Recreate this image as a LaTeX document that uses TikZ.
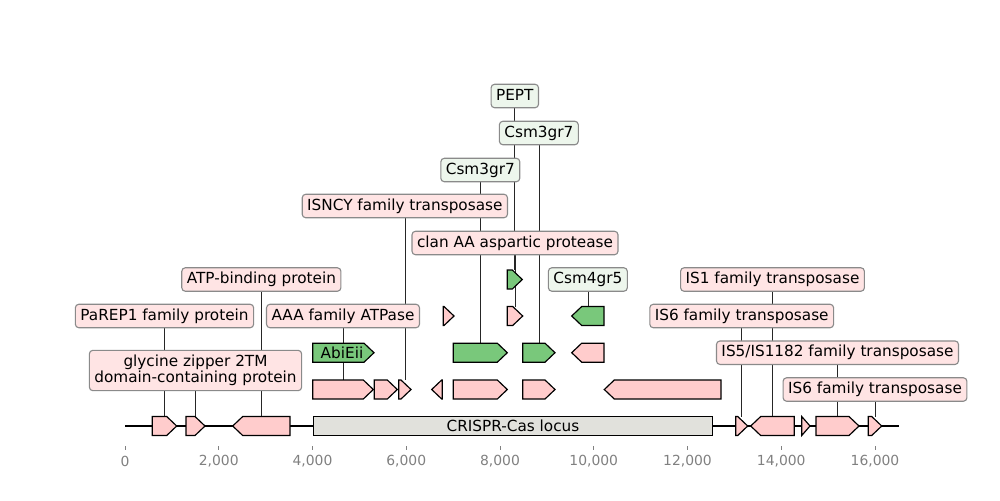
\documentclass[tikz,border=0pt]{standalone}
\usepackage{fontspec}
\setmainfont{DejaVu Sans}
\definecolor{fpink}{HTML}{FFCCCC}
\definecolor{fgreen}{HTML}{79C87B}
\definecolor{fgray}{HTML}{E1E1DC}
\definecolor{lpink}{HTML}{FFE4E4}
\definecolor{lgreen}{HTML}{EDF6EC}
\definecolor{lborder}{HTML}{8A8A8A}
\definecolor{tickgray}{HTML}{808080}
\pgfdeclarelayer{bg}
\pgfsetlayers{bg,main}
\tikzset{
  feat/.style={draw=black, line width=0.85pt, line join=miter},
  labbase/.style={draw=lborder, line width=0.8pt, rounded corners=2.5pt,
    font=\fontsize{11}{11.8}\selectfont, inner xsep=3.6pt, inner ysep=3.3pt},
  lab/.style={labbase, text height=8.1pt, text depth=2.2pt},
  labp/.style={lab, fill=lpink},
  labg/.style={lab, fill=lgreen},
  conn/.style={draw=black!85, line width=0.5pt},
  tick/.style={draw=tickgray, line width=0.7pt},
  ticklab/.style={text=tickgray, font=\fontsize{10}{12}\selectfont},
}
\newcommand\fwdf[5]{%
  \pgfmathsetmacro\hlen{min(10,#3-#2)}%
  \draw[feat, fill=#5] (#2,#4-9.5) -- ({#3-\hlen},#4-9.5) -- (#3,#4) -- ({#3-\hlen},#4+9.5) -- (#2,#4+9.5) -- cycle;
  \coordinate (#1) at ({(#2+#3)/2},#4-9.5);}
\newcommand\revf[5]{%
  \pgfmathsetmacro\hlen{min(10,#3-#2)}%
  \draw[feat, fill=#5] (#3,#4-9.5) -- ({#2+\hlen},#4-9.5) -- (#2,#4) -- ({#2+\hlen},#4+9.5) -- (#3,#4+9.5) -- cycle;
  \coordinate (#1) at ({(#2+#3)/2},#4-9.5);}
\begin{document}
\begin{tikzpicture}[x=0.72pt, y=-0.72pt]
\useasboundingbox (0,0) rectangle (1000,500);
% backbone
\coordinate (bbL) at (125,426);
\coordinate (bbR) at (899.3,426);
\begin{pgfonlayer}{bg}
\draw[line width=1.45pt] (bbL) -- (bbR);
\end{pgfonlayer}
% axis
\foreach \k/\t in {0/0,1/{2,000},2/{4,000},3/{6,000},4/{8,000},5/{10,000},6/{12,000},7/{14,000},8/{16,000}}{
  \draw[tick] ({125+93.75*\k},446) -- ({125+93.75*\k},450);
  \node[ticklab] (tl\k) at ({125+93.75*\k},461.5) {\t};
}
% main track
\fwdf{fA}{152.3}{176.7}{426}{fpink}
\fwdf{fB}{186}{205}{426}{fpink}
\revf{fC}{232.7}{290}{426}{fpink}
\node[feat, fill=fgray, minimum width=399.8*0.72pt, minimum height=19*0.72pt, inner sep=0pt, anchor=west,
  font=\fontsize{11}{12}\selectfont] (locus) at (312.5,426) {CRISPR-Cas locus};
\fwdf{fD}{735.7}{747.7}{426}{fpink}
\revf{fE}{750.7}{794.3}{426}{fpink}
\fwdf{fF}{801.7}{810}{426}{fpink}
\fwdf{fG}{816}{859}{426}{fpink}
\fwdf{fH}{868.3}{881.7}{426}{fpink}
% row 1
\fwdf{ra}{312.7}{373.3}{389.5}{fpink}
\fwdf{rb}{374.3}{397.3}{389.5}{fpink}
\fwdf{rc}{398.7}{411}{389.5}{fpink}
\revf{rd}{431.7}{442.3}{389.5}{fpink}
\fwdf{re}{453.3}{507.3}{389.5}{fpink}
\fwdf{rf}{522.7}{555}{389.5}{fpink}
\revf{rg}{604.3}{721}{389.5}{fpink}
% row 2
\fwdf{sa}{312.7}{374}{352.7}{fgreen}
\node[font=\fontsize{11}{12}\selectfont, inner sep=0pt] (abi) at (342,352.7) {AbiEii};
\fwdf{sb}{453.3}{507.3}{352.7}{fgreen}
\fwdf{sc}{522.7}{555}{352.7}{fgreen}
\revf{sd}{571.7}{604}{352.7}{fpink}
% row 3
\fwdf{ta}{443.3}{454}{316}{fpink}
\fwdf{tb}{507.3}{522.7}{316}{fpink}
\revf{tc}{571.7}{604}{316}{fgreen}
% row 4
\fwdf{ua}{507.3}{522.3}{279.5}{fgreen}
% labels
\node[labg] (lPEPT) at (ua |- 0,96) {PEPT};
\node[labg] (lCsmA) at (sc |- 0,133) {Csm3gr7};
\node[labg] (lCsmB) at (sb |- 0,170) {Csm3gr7};
\node[labp] (lISNCY) at (rc |- 0,206) {ISNCY family transposase};
\node[labp] (lclan) at (tb |- 0,243) {clan AA aspartic protease};
\node[labp] (lATP) at (fC |- 0,279.5) {ATP-binding protein};
\node[labg] (lCsm4) at (tc |- 0,279.5) {Csm4gr5};
\node[labp] (lIS1) at (fE |- 0,279.5) {IS1 family transposase};
\node[labp] (lPaREP) at (fA |- 0,316) {PaREP1 family protein};
\node[labp] (lAAA) at (ra |- 0,316) {AAA family ATPase};
\node[labp] (lIS6a) at (fD |- 0,316) {IS6 family transposase};
\node[labbase, fill=lpink, align=center] (lgly) at (fB |- 0,370.5) {glycine zipper 2TM\\domain-containing protein};
\node[labp] (lIS5) at (fG |- 0,352.7) {IS5/IS1182 family transposase};
\node[labp] (lIS6b) at (fH |- 0,389.5) {IS6 family transposase};
% connectors
\begin{pgfonlayer}{bg}
\draw[conn] (lPEPT) -- (ua);
\draw[conn] (lCsmA) -- (sc);
\draw[conn] (lCsmB) -- (sb);
\draw[conn] (lISNCY) -- (rc);
\draw[conn] (lclan) -- (tb);
\draw[conn] (lATP) -- (fC);
\draw[conn] (lCsm4) -- (tc);
\draw[conn] (lIS1) -- (fE);
\draw[conn] (lPaREP) -- (fA);
\draw[conn] (lAAA) -- (ra);
\draw[conn] (lIS6a) -- (fD);
\draw[conn] (lgly) -- (fB);
\draw[conn] (lIS5) -- (fG);
\draw[conn] (lIS6b) -- (fH);
\end{pgfonlayer}
\end{tikzpicture}
\end{document}
